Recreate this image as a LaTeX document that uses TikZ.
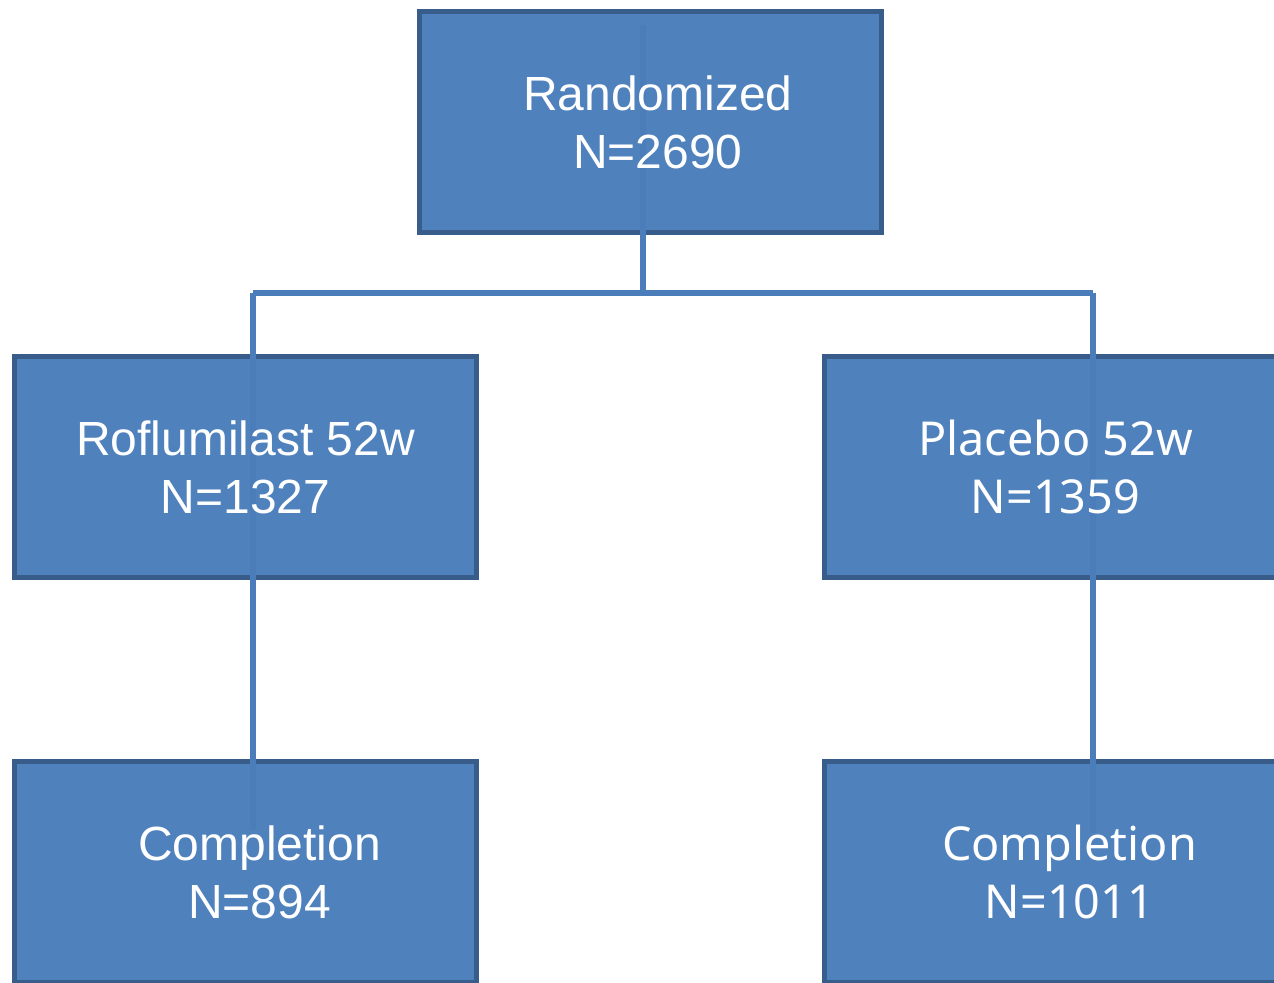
\documentclass[tikz,border=0pt]{standalone}
\usepackage{fontspec}
\setmainfont{Liberation Sans}
\newfontfamily\uifont{Noto Sans}
\definecolor{boxfill}{HTML}{4F81BD}
\definecolor{boxedge}{HTML}{385D8A}
\definecolor{linkcol}{HTML}{4A7DBA}
\tikzset{
  box/.style={draw=boxedge,fill=boxfill,line width=2.8pt,minimum width=9.24cm,
    minimum height=4.42cm},
  lbl/.style={text=white,align=center,font=\fontsize{27.3}{33}\selectfont},
  uilbl/.style={lbl,font=\uifont\fontsize{26.6}{33}\selectfont},
  link/.style={draw=linkcol,line width=3pt}
}
\begin{document}
\begin{tikzpicture}[x=0.02cm,y=-0.02cm]
        \useasboundingbox (0,0) rectangle (1274,983);
        \clip (0,0) rectangle (1274,983);
        % boxes
        \node[box] (rand) at (650.5,122) {};
        \node[box] (rofl) at (245.5,467) {};
        \node[box] (plac) at (1055.5,467) {};
        \node[box] (rcomp) at (245.5,872) {};
        \node[box] (pcomp) at (1055.5,872) {};
        % connectors
        \coordinate (split) at (643,293);
        \coordinate (lend) at (253,830);
        \coordinate (rend) at (1093,833);
        \draw[link] (split |- rand.north) ++(0,16) -- (split);
        \draw[link] (lend |- split) -- (split) -- (rend |- split);
        \draw[link] (lend |- split) -- (lend);
        \draw[link] (rend |- split) -- (rend);
        % texts
        \node[lbl] (rand-t) at ([xshift=0.15cm]rand.center) {Randomized\\N=2690};
        \node[lbl] (rofl-t) at (rofl.center) {Roflumilast 52w\\N=1327};
        \node[uilbl] (plac-t) at (plac.center) {Placebo 52w\\N=1359};
        \node[lbl] (rcomp-t) at ([xshift=0.28cm]rcomp.center) {Completion\\N=894};
        \node[uilbl] (pcomp-t) at ([xshift=0.28cm]pcomp.center) {Completion\\N=1011};
      \end{tikzpicture}
\end{document}
